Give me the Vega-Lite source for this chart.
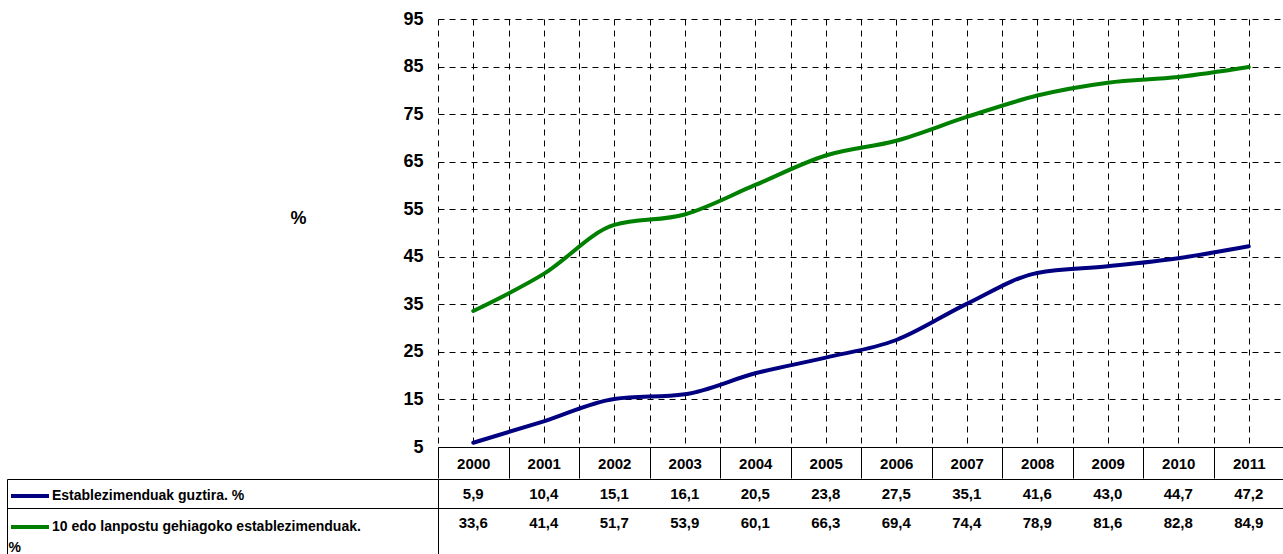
{
  "$schema": "https://vega.github.io/schema/vega-lite/v6.json",
  "padding": {"left": 6, "top": 10, "right": 0, "bottom": 0},
  "background": "white",
  "config": {
    "view": {"stroke": null},
    "font": "Liberation Sans",
    "locale": {"number": {"decimal": ",", "thousands": ".", "grouping": [3], "currency": ["", " €"]}}
  },
  "data": {"values": [
    {"year": 2000, "series": "Establezimenduak guztira. %", "value": 5.9},
    {"year": 2001, "series": "Establezimenduak guztira. %", "value": 10.4},
    {"year": 2002, "series": "Establezimenduak guztira. %", "value": 15.1},
    {"year": 2003, "series": "Establezimenduak guztira. %", "value": 16.1},
    {"year": 2004, "series": "Establezimenduak guztira. %", "value": 20.5},
    {"year": 2005, "series": "Establezimenduak guztira. %", "value": 23.8},
    {"year": 2006, "series": "Establezimenduak guztira. %", "value": 27.5},
    {"year": 2007, "series": "Establezimenduak guztira. %", "value": 35.1},
    {"year": 2008, "series": "Establezimenduak guztira. %", "value": 41.6},
    {"year": 2009, "series": "Establezimenduak guztira. %", "value": 43.0},
    {"year": 2010, "series": "Establezimenduak guztira. %", "value": 44.7},
    {"year": 2011, "series": "Establezimenduak guztira. %", "value": 47.2},
    {"year": 2000, "series": "10 edo lanpostu gehiagoko establezimenduak. %", "value": 33.6},
    {"year": 2001, "series": "10 edo lanpostu gehiagoko establezimenduak. %", "value": 41.4},
    {"year": 2002, "series": "10 edo lanpostu gehiagoko establezimenduak. %", "value": 51.7},
    {"year": 2003, "series": "10 edo lanpostu gehiagoko establezimenduak. %", "value": 53.9},
    {"year": 2004, "series": "10 edo lanpostu gehiagoko establezimenduak. %", "value": 60.1},
    {"year": 2005, "series": "10 edo lanpostu gehiagoko establezimenduak. %", "value": 66.3},
    {"year": 2006, "series": "10 edo lanpostu gehiagoko establezimenduak. %", "value": 69.4},
    {"year": 2007, "series": "10 edo lanpostu gehiagoko establezimenduak. %", "value": 74.4},
    {"year": 2008, "series": "10 edo lanpostu gehiagoko establezimenduak. %", "value": 78.9},
    {"year": 2009, "series": "10 edo lanpostu gehiagoko establezimenduak. %", "value": 81.6},
    {"year": 2010, "series": "10 edo lanpostu gehiagoko establezimenduak. %", "value": 82.8},
    {"year": 2011, "series": "10 edo lanpostu gehiagoko establezimenduak. %", "value": 84.9}
  ]},
  "spacing": -6,
  "resolve": {
    "scale": {"color": "independent", "stroke": "independent"},
    "legend": {"color": "independent", "stroke": "independent"}
  },
  "vconcat": [
    {
      "width": 846,
      "height": 428,
      "mark": {"type": "line", "interpolate": "monotone", "strokeWidth": 4, "strokeCap": "round"},
      "encoding": {
        "x": {
          "field": "year", "type": "quantitative",
          "scale": {"domain": [1999.5, 2011.5], "nice": false, "zero": false},
          "axis": {
            "title": null,
            "values": [1999.5, 2000, 2000.5, 2001, 2001.5, 2002, 2002.5, 2003, 2003.5, 2004, 2004.5, 2005, 2005.5, 2006, 2006.5, 2007, 2007.5, 2008, 2008.5, 2009, 2009.5, 2010, 2010.5, 2011, 2011.5],
            "grid": true, "gridColor": "black", "gridDash": [6, 5], "gridWidth": 1, "gridOpacity": 1,
            "domain": true, "domainColor": "black", "domainWidth": 1,
            "ticks": true, "tickSize": 31, "tickColor": "black", "tickWidth": 1,
            "tickOpacity": {"condition": {"test": "datum.value % 1 === 0", "value": 0}, "value": 1},
            "labelExpr": "datum.value % 1 === 0 ? format(datum.value, 'd') : ''",
            "labelPadding": -15, "labelBaseline": "middle", "labelAlign": "center",
            "labelFont": "Liberation Sans", "labelFontWeight": "bold", "labelFontSize": 15, "labelColor": "black",
            "labelOverlap": false, "labelFlush": false, "labelBound": false
          }
        },
        "y": {
          "field": "value", "type": "quantitative",
          "scale": {"domain": [5, 95], "nice": false, "zero": false},
          "axis": {
            "values": [5, 15, 25, 35, 45, 55, 65, 75, 85, 95],
            "title": "%", "titleAngle": 0, "titleX": -140, "titleY": 199, "titleAlign": "center", "titleBaseline": "middle",
            "titleFont": "Liberation Sans", "titleFontWeight": "bold", "titleFontSize": 18, "titleColor": "black",
            "grid": true, "gridColor": "black", "gridDash": [6, 5], "gridWidth": 1, "gridOpacity": 1,
            "domain": false, "ticks": false, "tickSize": 0,
            "labelPadding": 15, "labelFont": "Liberation Sans", "labelFontWeight": "bold", "labelFontSize": 18, "labelColor": "black",
            "labelOverlap": false, "labelFlush": false, "labelBound": false
          }
        },
        "color": {
          "field": "series", "type": "nominal",
          "scale": {"domain": ["Establezimenduak guztira. %", "10 edo lanpostu gehiagoko establezimenduak. %"], "range": ["#000080", "#008000"]},
          "legend": null
        }
      }
    },
    {
      "width": 846,
      "height": 76,
      "resolve": {"axis": {"y": "independent"}},
      "layer": [
        {
          "transform": [{"filter": "datum.series == 'Establezimenduak guztira. %'"}],
          "mark": {"type": "text", "fill": "black", "strokeWidth": 0, "font": "Liberation Sans", "fontWeight": "bold", "fontSize": 15, "baseline": "middle", "align": "center"},
          "encoding": {
            "x": {
              "field": "year", "type": "quantitative",
              "scale": {"domain": [1999.5, 2011.5], "nice": false, "zero": false},
              "axis": {
                "orient": "top", "title": null,
                "values": [1999.5, 2000.5, 2001.5, 2002.5, 2003.5, 2004.5, 2005.5, 2006.5, 2007.5, 2008.5, 2009.5, 2010.5, 2011.5],
                "grid": true, "gridColor": "black", "gridWidth": 1, "gridOpacity": 1,
                "labels": false, "ticks": false, "tickSize": 0,
                "domain": true, "domainColor": "black", "domainWidth": 1
              }
            },
            "y": {
              "field": "series", "type": "nominal",
              "scale": {"type": "band", "domain": ["Establezimenduak guztira. %", "10 edo lanpostu gehiagoko establezimenduak. %"], "paddingInner": 0, "paddingOuter": 0.31, "align": 0},
              "axis": {
                "orient": "left", "title": null, "labels": false,
                "tickBand": "extent", "ticks": true, "tickSize": 431, "tickColor": "black", "tickWidth": 1,
                "tickOpacity": {"condition": {"test": "datum.value == '10 edo lanpostu gehiagoko establezimenduak. %'", "value": 0}, "value": 1},
                "grid": true, "gridColor": "black", "gridWidth": 1,
                "gridOpacity": {"condition": {"test": "datum.value == '10 edo lanpostu gehiagoko establezimenduak. %'", "value": 0}, "value": 1},
                "domain": true, "domainColor": "black", "domainWidth": 1
              }
            },
            "text": {"field": "value", "type": "quantitative", "format": ".1f"},
            "stroke": {
              "field": "series", "type": "nominal",
              "scale": {"domain": ["Establezimenduak guztira. %", "10 edo lanpostu gehiagoko establezimenduak. %"], "range": ["#000080", "#008000"]},
              "legend": {
                "orient": "none", "legendX": -429, "legendY": -4, "title": null,
                "symbolType": "stroke", "symbolSize": 1444, "symbolStrokeWidth": 4,
                "rowPadding": 2, "padding": 0, "labelOffset": 1,
                "labelFont": "Liberation Sans", "labelFontWeight": "bold", "labelFontSize": 14, "labelColor": "black", "labelLimit": 600,
                "labelExpr": "datum.label == '10 edo lanpostu gehiagoko establezimenduak. %' ? '10 edo lanpostu gehiagoko establezimenduak.' : datum.label"
              }
            }
          }
        },
        {
          "transform": [{"filter": "datum.series == '10 edo lanpostu gehiagoko establezimenduak. %'"}],
          "mark": {"type": "text", "fill": "black", "strokeWidth": 0, "font": "Liberation Sans", "fontWeight": "bold", "fontSize": 15, "baseline": "middle", "align": "center"},
          "encoding": {
            "x": {"field": "year", "type": "quantitative", "axis": null},
            "y": {
              "field": "series", "type": "nominal",
              "axis": {
                "orient": "left", "title": null, "offset": 431,
                "domain": true, "domainColor": "black", "domainWidth": 1,
                "ticks": false, "tickSize": 0, "grid": false,
                "labelExpr": "datum.value == '10 edo lanpostu gehiagoko establezimenduak. %' ? '%' : ''",
                "labelAlign": "left", "labelPadding": -1, "labelOffset": 25.5, "labelBaseline": "middle",
                "labelFont": "Liberation Sans", "labelFontWeight": "bold", "labelFontSize": 14, "labelColor": "black",
                "labelOverlap": false, "labelBound": false, "labelFlush": false
              }
            },
            "text": {"field": "value", "type": "quantitative", "format": ".1f"},
            "stroke": {"field": "series", "type": "nominal"}
          }
        }
      ]
    }
  ]
}
